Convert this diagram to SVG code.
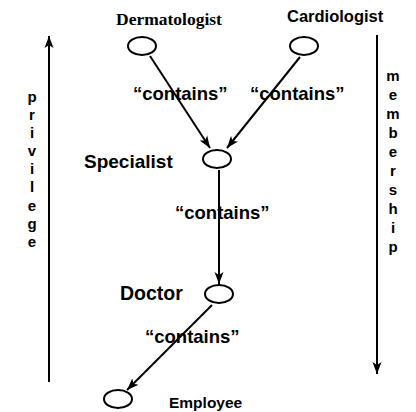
<svg xmlns="http://www.w3.org/2000/svg" width="416" height="412" viewBox="0 0 416 412">
<style>
.n{fill:#fff;stroke:#000;stroke-width:2}
.c{stroke:#000;stroke-width:2;fill:none;marker-end:url(#ah)}
.s{font-family:"Liberation Sans",Arial,sans-serif;font-weight:bold;fill:#000}
.v{font-family:"Liberation Sans",Arial,sans-serif;font-weight:bold;font-size:15px;fill:#000;text-anchor:middle}
</style>
<defs>
<marker id="ah" markerUnits="userSpaceOnUse" markerWidth="14" markerHeight="10" refX="12" refY="5" orient="auto">
<path d="M0,0.5 L12,5 L0,9.5 L3,5 z" fill="#000"/>
</marker>
</defs>
<rect width="416" height="412" fill="#fff"/>
<g id="connectors">
<line class="c" x1="150" y1="56" x2="210" y2="148"/>
<line class="c" x1="300" y1="57" x2="227" y2="148"/>
<line class="c" x1="219" y1="170" x2="219" y2="284"/>
<line class="c" x1="212" y1="305" x2="127" y2="390"/>
<line class="c" x1="49" y1="382" x2="49" y2="36"/>
<line class="c" x1="377" y1="35" x2="377" y2="374"/>
<text class="s" x="133" y="100" font-size="18.5">“contains”</text>
<text class="s" x="250" y="100" font-size="18.5">“contains”</text>
<text class="s" x="175" y="219" font-size="18.5">“contains”</text>
<text class="s" x="145" y="343" font-size="18.5">“contains”</text>
</g>
<g id="dermatologist">
<ellipse class="n" cx="142" cy="46" rx="14" ry="9"/>
<text x="116" y="25" font-family="Liberation Serif,'Times New Roman',serif" font-weight="bold" font-size="17.5">Dermatologist</text>
</g>
<g id="cardiologist">
<ellipse class="n" cx="304" cy="46" rx="14" ry="9"/>
<text class="s" x="287" y="22" font-size="16.5">Cardiologist</text>
</g>
<g id="specialist">
<ellipse class="n" cx="217" cy="159" rx="14" ry="9"/>
<text class="s" x="84" y="168" font-size="19">Specialist</text>
</g>
<g id="doctor">
<ellipse class="n" cx="219" cy="294" rx="14" ry="9"/>
<text class="s" x="120" y="300" font-size="19.5">Doctor</text>
</g>
<g id="employee">
<ellipse class="n" cx="118" cy="399" rx="14" ry="9"/>
<text class="s" x="169" y="408" font-size="15.5">Employee</text>
</g>
<g id="privilege">
<text class="v" x="32" y="102">p</text>
<text class="v" x="32" y="120">r</text>
<text class="v" x="32" y="138">i</text>
<text class="v" x="32" y="156">v</text>
<text class="v" x="32" y="174">i</text>
<text class="v" x="32" y="192">l</text>
<text class="v" x="32" y="211">e</text>
<text class="v" x="32" y="229">g</text>
<text class="v" x="32" y="247">e</text>
</g>
<g id="membership">
<text class="v" x="393" y="81">m</text>
<text class="v" x="393" y="100">e</text>
<text class="v" x="393" y="119">m</text>
<text class="v" x="393" y="138">b</text>
<text class="v" x="393" y="157">e</text>
<text class="v" x="393" y="176">r</text>
<text class="v" x="393" y="195">s</text>
<text class="v" x="393" y="214">h</text>
<text class="v" x="393" y="233">i</text>
<text class="v" x="393" y="252">p</text>
</g>
</svg>
